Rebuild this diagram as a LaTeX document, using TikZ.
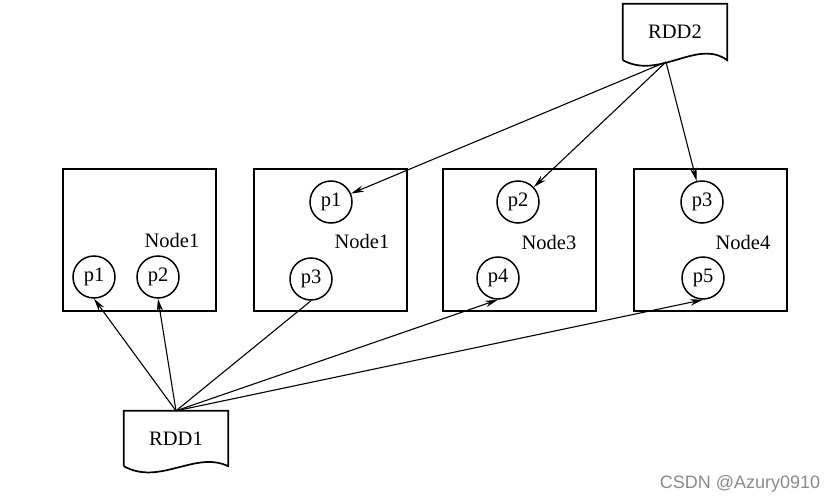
\documentclass[tikz,border=0pt]{standalone}
\usepackage{fontspec}
\setmainfont{Liberation Serif}
\newfontfamily\markfont{Liberation Sans}
\usetikzlibrary{arrows.meta,positioning}
\definecolor{markGray}{HTML}{8A8A8A}

\begin{document}
\begin{tikzpicture}[
x=1pt, y=-1pt,
node distance=38pt,
every node/.style={font=\fontsize{20.5}{23}\selectfont},
nodebox/.style={draw, line width=1.7pt, minimum width=153pt, minimum height=142pt, inner sep=0pt, outer sep=0pt},
part/.style={draw, circle, line width=1.5pt, minimum size=42pt, inner sep=0pt},
doc/.style={minimum width=104pt, minimum height=55pt, inner sep=0pt},
docline/.style={line width=1.7pt},
arr/.style={-{Stealth[length=13pt,width=6.5pt]}, line width=1.1pt},
ln/.style={line width=1.1pt}
]
\useasboundingbox (0,0) rectangle (837,503);

% Worker boxes
\node[nodebox] (N1) at (139.5,240) {};
\node[nodebox, right=of N1] (N2) {};
\node[nodebox, right=36pt of N2] (N3) {};
\node[nodebox, right=of N3] (N4) {};
\node (L1) at (172,240) {Node1};
\node (L2) at (362,241) {Node1};
\node (L3) at (549,242) {Node3};
\node (L4) at (743,242) {Node4};

% Partitions
\node[part] (A1) at (94,277) {p1};
\node[part] (A2) at (158,277) {p2};
\node[part] (B1) at (331,202) {p1};
\node[part] (B3) at (311,279) {p3};
\node[part] (C2) at (518,202) {p2};
\node[part] (C4) at (498,278) {p4};
\node[part] (D3) at (702,202) {p3};
\node[part] (D5) at (703,278) {p5};

% RDD documents
\node[doc] (RDD1) at (176,438.5) {RDD1};
\draw[docline] (RDD1.south west) |- (RDD1.north east) -- (RDD1.south east) .. controls +(-33,-16) and +(36,20) .. (RDD1.south west);
\node[doc, minimum height=56pt] (RDD2) at (675,32) {RDD2};
\draw[docline] (RDD2.south west) |- (RDD2.north east) -- (RDD2.south east) .. controls +(-30,-22) and +(37,20) .. (RDD2.south west);
\coordinate (RDD2out) at (666,62);

% RDD1 links
\draw[arr] (RDD1.north) -- (A1.south);
\draw[arr] (RDD1.north) -- (A2.south);
\draw[ln] (RDD1.north) -- (B3.south);
\draw[arr] (RDD1.north) -- (C4.south);
\draw[arr] (RDD1.north) -- (D5.south);

% RDD2 links
\draw[arr] (RDD2out) -- (B1);
\draw[arr] (RDD2out) -- (C2);
\draw[arr] (RDD2out) -- (D3);

\node[font=\markfont\fontsize{18}{20}\selectfont, text=markGray] (mark) at (740,484) {CSDN @Azury0910};
\end{tikzpicture}
\end{document}
